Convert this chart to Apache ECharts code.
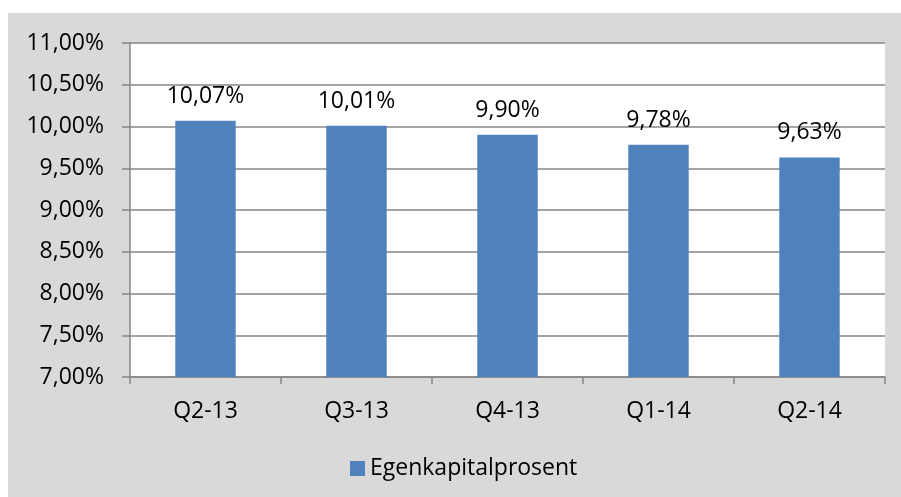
<!DOCTYPE html>
<html>
<head>
<meta charset="utf-8">
<script src="https://cdn.jsdelivr.net/npm/echarts@6/dist/echarts.min.js"></script>
<style>
  html, body { margin: 0; padding: 0; background: #fff; }
  #chart { position: absolute; left: 8px; top: 13px; width: 893px; height: 484px; }
</style>
</head>
<body>
<div id="chart"></div>
<script>
const categories = ["Q2-13", "Q3-13", "Q4-13", "Q1-14", "Q2-14"]
const egenkapital = [10.07, 10.01, 9.90, 9.78, 9.63]
const seriesName = "Egenkapitalprosent"

const pct = (v) => v.toFixed(2).replace(".", ",") + "%"
const font = "'Open Sans', sans-serif"

const chart = echarts.init(document.getElementById("chart"))
chart.setOption({
	backgroundColor: "#d9d9d9",
	animation: false,
	textStyle: { fontFamily: font },
	legend: {
		bottom: 12,
		left: 337,
		itemWidth: 15,
		itemHeight: 15,
		itemGap: 6,
		icon: "rect",
		textStyle: { fontSize: 23, color: "#000", fontFamily: font },
		data: [seriesName],
	},
	grid: {
		left: 122,
		top: 30,
		right: 16,
		bottom: 120,
		show: true,
		backgroundColor: "#fff",
		borderWidth: 0,
	},
	xAxis: {
		type: "category",
		data: categories,
		axisLine: { lineStyle: { color: "#868686", width: 1.5 } },
		axisTick: { show: true, length: 7, lineStyle: { color: "#868686", width: 1.5 } },
		axisLabel: { fontSize: 23, color: "#000", margin: 23, fontFamily: font },
	},
	yAxis: {
		type: "value",
		min: 7,
		max: 11,
		interval: 0.5,
		axisLine: { show: true, lineStyle: { color: "#868686", width: 1.5 } },
		axisTick: { show: true, length: 8, lineStyle: { color: "#868686", width: 1.5 } },
		splitLine: { lineStyle: { color: "#868686", width: 1.5 } },
		axisLabel: { fontSize: 23, color: "#000", margin: 26, formatter: pct, fontFamily: font },
	},
	series: [
		{
			name: seriesName,
			type: "bar",
			data: egenkapital,
			barWidth: "40%",
			itemStyle: { color: "#4f81bd" },
			label: {
				show: true,
				position: "top",
				distance: 13,
				fontSize: 23,
				color: "#000",
				fontFamily: font,
				formatter: (p) => pct(p.value),
			},
		},
	],
})
</script>
</body>
</html>
